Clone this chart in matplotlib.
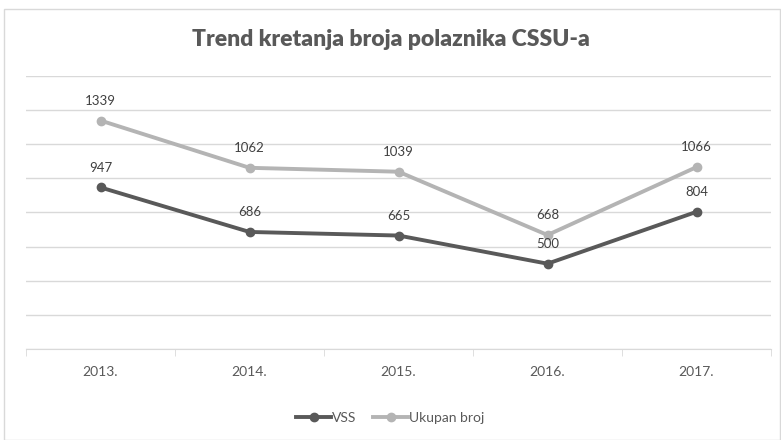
import matplotlib
matplotlib.use("Agg")
import matplotlib.pyplot as plt
from matplotlib.patches import Rectangle

years = ["2013.", "2014.", "2015.", "2016.", "2017."]
vss = [947, 686, 665, 500, 804]
ukupno = [1339, 1062, 1039, 668, 1066]

plt.rcParams['font.family'] = ['Lato', 'DejaVu Sans']

fig = plt.figure(figsize=(7.81, 4.40), dpi=100)
fig.patches.append(Rectangle((4 / 781, 0), 776 / 781, 431 / 440, transform=fig.transFigure,
                             fill=False, edgecolor='#D9D9D9', linewidth=1))
ax = fig.add_axes([26 / 781, 91 / 440, 745 / 781, 273 / 440])

x = list(range(len(years)))
ax.plot(x, vss, color='#595959', linewidth=2.8, marker='o', markersize=6, label='VSS', zorder=3)
ax.plot(x, ukupno, color='#B4B4B4', linewidth=2.8, marker='o', markersize=6, label='Ukupan broj', zorder=3)

for xi, v in zip(x, vss):
    ax.annotate(str(v), (xi, v), xytext=(0, 10), textcoords='offset points',
                ha='center', va='bottom', fontsize=9.5, color='#404040')
for xi, v in zip(x, ukupno):
    ax.annotate(str(v), (xi, v), xytext=(0, 10), textcoords='offset points',
                ha='center', va='bottom', fontsize=9.5, color='#404040')

ax.set_xlim(-0.5, 4.5)
ax.set_ylim(0, 1600)
ax.set_yticks(range(0, 1601, 200))
ax.yaxis.grid(True, color='#D9D9D9', linewidth=1)
ax.set_axisbelow(True)
ax.tick_params(axis='y', left=False, labelleft=False)

ax.set_xticks(x)
ax.set_xticklabels(years, fontsize=10, color='#595959')
ax.set_xticks([i + 0.5 for i in range(-1, len(years))], minor=True)
ax.tick_params(axis='x', which='major', length=0, pad=12)
ax.tick_params(axis='x', which='minor', length=5, color='#D9D9D9')

for s in ['top', 'right', 'left']:
    ax.spines[s].set_visible(False)
ax.spines['bottom'].set_color('#D9D9D9')

fig.text(0.5, 1 - 40 / 440, 'Trend kretanja broja polaznika CSSU-a', ha='center', va='center',
         fontsize=16.5, fontweight='heavy', color='#595959')

fig.legend(loc='center', bbox_to_anchor=(0.5, 1 - 418 / 440), ncol=2, frameon=False,
           fontsize=10, labelcolor='#595959', handlelength=2.5, handletextpad=0.1, columnspacing=1.2)

fig.savefig('out.png', dpi=100)
